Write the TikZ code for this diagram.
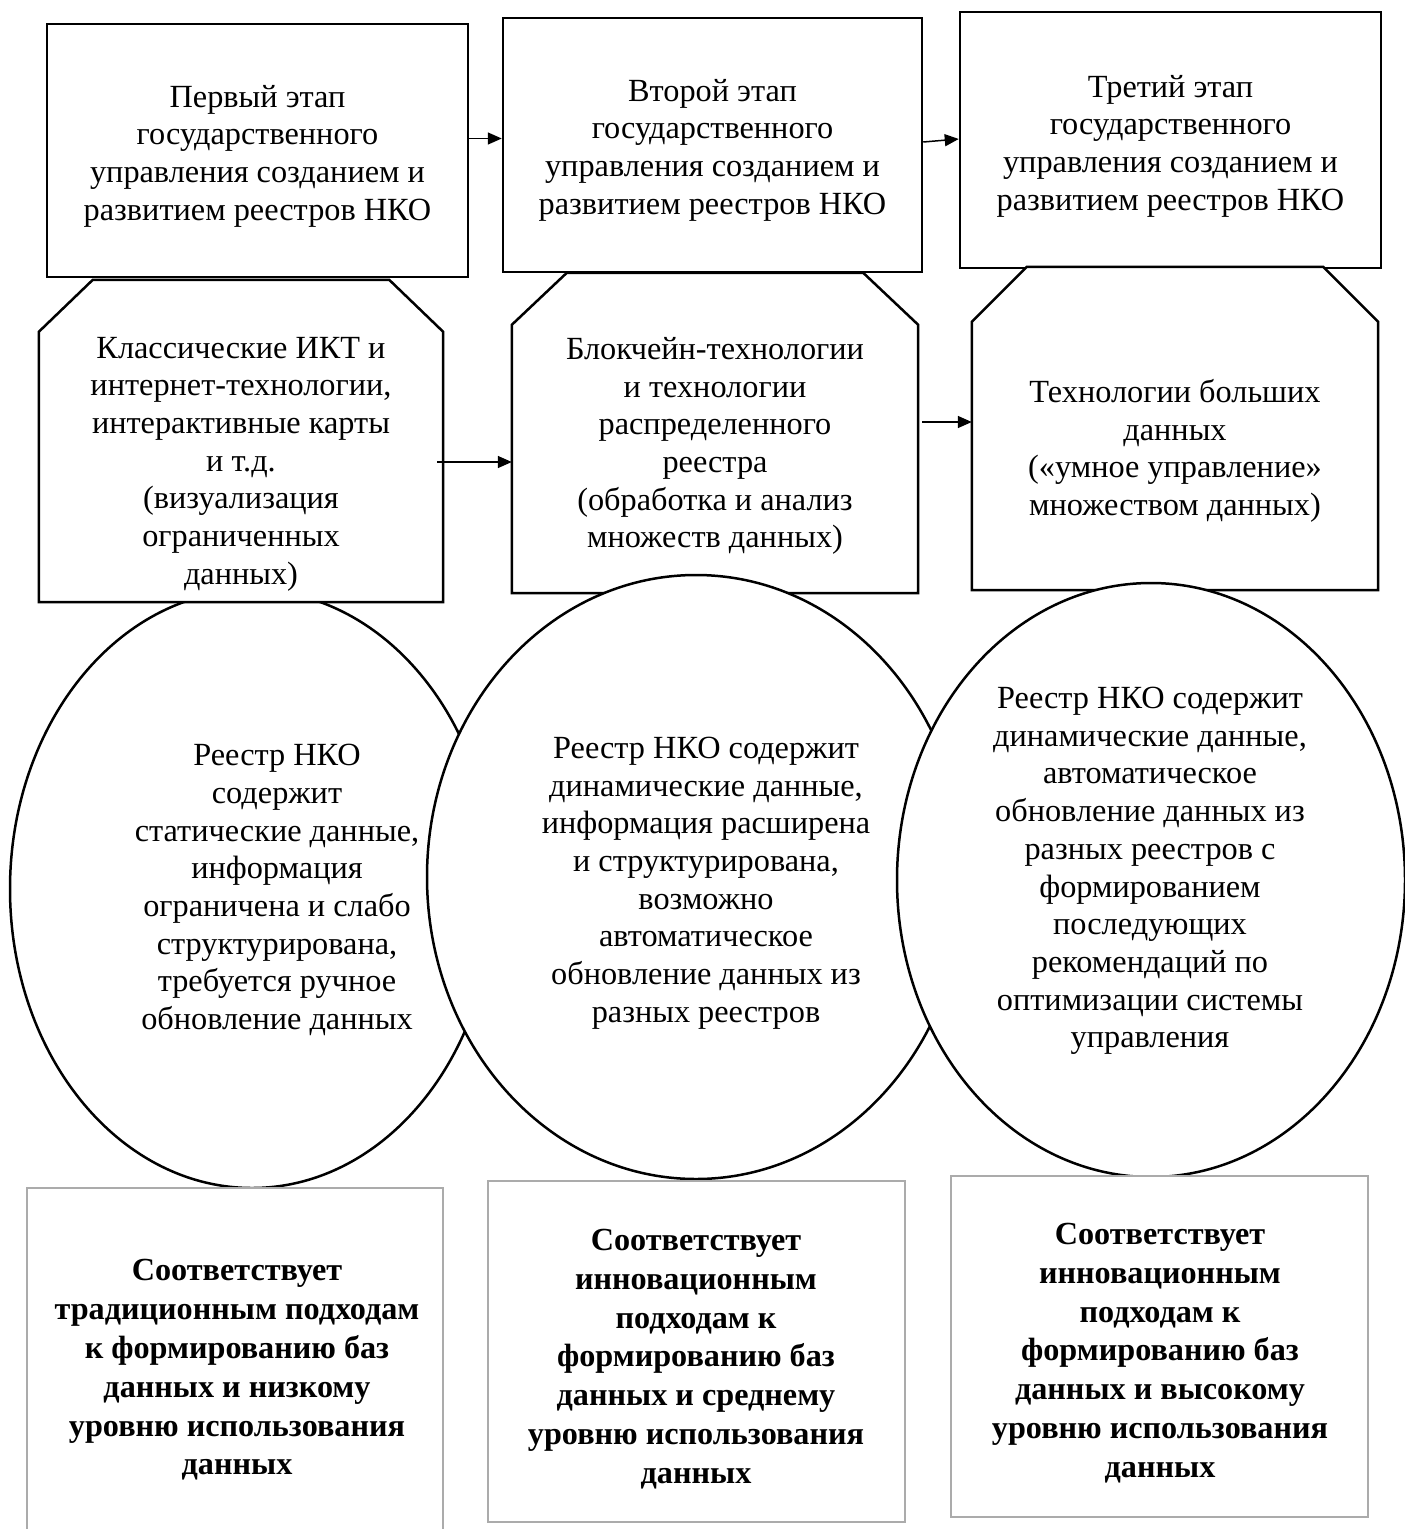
\documentclass[tikz,border=0pt]{standalone}
\usepackage{fontspec}
\setmainfont{Liberation Serif}
\usetikzlibrary{arrows.meta,calc,shapes.geometric}
\begin{document}
\begin{tikzpicture}[x=1pt,y=-1pt,
  txt/.style={align=center,font=\fontsize{32.3}{37.7}\selectfont,inner sep=0pt},
  btxt/.style={align=center,font=\fontsize{32.2}{38.8}\selectfont\bfseries,inner sep=0pt},
  stagebox/.style={draw,line width=2.5pt,fill=white,inner sep=0pt},
  octbox/.style={inner sep=0pt},
  octline/.style={draw,line width=2.5pt,fill=white},
  regell/.style={ellipse,draw,line width=2.5pt,fill=white,inner sep=0pt},
  resbox/.style={draw=black!33,line width=2pt,fill=white,inner sep=0pt},
  arr/.style={line width=1.5pt,-{Triangle[length=14pt,width=12pt]}}
]
\useasboundingbox (0,0) rectangle (1405,1529);
% top stage boxes
\node[stagebox,minimum width=421pt,minimum height=253pt] (b1) at (257.5,150.5) {};
\node[txt] (b1t) at (257.5,156) {Первый этап\\государственного\\управления созданием и\\развитием реестров НКО};
\node[stagebox,minimum width=419pt,minimum height=254pt] (b2) at (712.5,145) {};
\node[txt] (b2t) at (712.5,150) {Второй этап\\государственного\\управления созданием и\\развитием реестров НКО};
\node[stagebox,minimum width=421pt,minimum height=256pt] (b3) at (1170.5,140) {};
\node[txt] (b3t) at (1170.5,146) {Третий этап\\государственного\\управления созданием и\\развитием реестров НКО};
% first ellipse (behind first octagon)
\node[regell,minimum width=484pt,minimum height=598pt] (e1) at (252,889) {};
\node[txt] (e1t) at (277,890) {Реестр НКО\\содержит\\статические данные,\\информация\\ограничена и слабо\\структурирована,\\требуется ручное\\обновление данных};
% octagons 1 and 2
\node[octbox,minimum width=404pt,minimum height=322pt] (o1) at (241,441) {};
\path[octline] (o1.south west) -- ([yshift=-52pt]o1.north west) -- ([xshift=54pt]o1.north west)
  -- ([xshift=-54pt]o1.north east) -- ([yshift=-52pt]o1.north east) -- (o1.south east) -- cycle;
\node[txt] (o1t) at (241,464) {Классические ИКТ и\\интернет-технологии,\\интерактивные карты\\и т.д.\\(визуализация\\ограниченных\\данных)};
\node[octbox,minimum width=406pt,minimum height=320pt] (o2) at (715,433) {};
\path[octline] (o2.south west) -- ([yshift=-52pt]o2.north west) -- ([xshift=55pt]o2.north west)
  -- ([xshift=-55pt]o2.north east) -- ([yshift=-52pt]o2.north east) -- (o2.south east) -- cycle;
\node[txt] (o2t) at (715,446) {Блокчейн-технологии\\и технологии\\распределенного\\реестра\\(обработка и анализ\\множеств данных)};
% second ellipse
\node[regell,minimum width=538pt,minimum height=604pt] (e2) at (696,877) {};
\node[txt] (e2t) at (706,883) {Реестр НКО содержит\\динамические данные,\\информация расширена\\и структурирована,\\возможно\\автоматическое\\обновление данных из\\разных реестров};
% octagon 3
\node[octbox,minimum width=406pt,minimum height=323pt] (o3) at (1175,428.5) {};
\path[octline] (o3.south west) -- ([yshift=-55pt]o3.north west) -- ([xshift=55pt]o3.north west)
  -- ([xshift=-55pt]o3.north east) -- ([yshift=-55pt]o3.north east) -- (o3.south east) -- cycle;
\node[txt] (o3t) at (1175,451) {Технологии больших\\данных\\(«умное управление»\\множеством данных)};
% third ellipse
\node[regell,minimum width=508pt,minimum height=594pt] (e3) at (1151,880) {};
\node[txt] (e3t) at (1150,871) {Реестр НКО содержит\\динамические данные,\\автоматическое\\обновление данных из\\разных реестров с\\формированием\\последующих\\рекомендаций по\\оптимизации системы\\управления};
% bottom boxes
\node[resbox,minimum width=416pt,minimum height=350pt] (r1) at (235,1363) {};
\node[btxt] (r1t) at (237,1370) {Соответствует\\традиционным подходам\\к формированию баз\\данных и низкому\\уровню использования\\данных};
\node[resbox,minimum width=417pt,minimum height=341pt] (r2) at (696.5,1351.5) {};
\node[btxt] (r2t) at (696,1359) {Соответствует\\инновационным\\подходам к\\формированию баз\\данных и среднему\\уровню использования\\данных};
\node[resbox,minimum width=417pt,minimum height=341pt] (r3) at (1159.5,1346.5) {};
\node[btxt] (r3t) at (1160,1353) {Соответствует\\инновационным\\подходам к\\формированию баз\\данных и высокому\\уровню использования\\данных};
% arrows
\draw[arr] ([yshift=12pt]b1.east) -- ([yshift=12pt]b1.east -| b2.west);
\draw[arr] ([yshift=3pt]b2.east) -- ([yshift=1pt]b3.west);
\draw[arr] ([xshift=-6pt,yshift=-21pt]o1.east) -- ([yshift=-21pt]o1.east -| o2.west);
\draw[arr] ([xshift=4pt,yshift=11pt]o2.east) -- ([yshift=11pt]o2.east -| o3.west);
\end{tikzpicture}
\end{document}
